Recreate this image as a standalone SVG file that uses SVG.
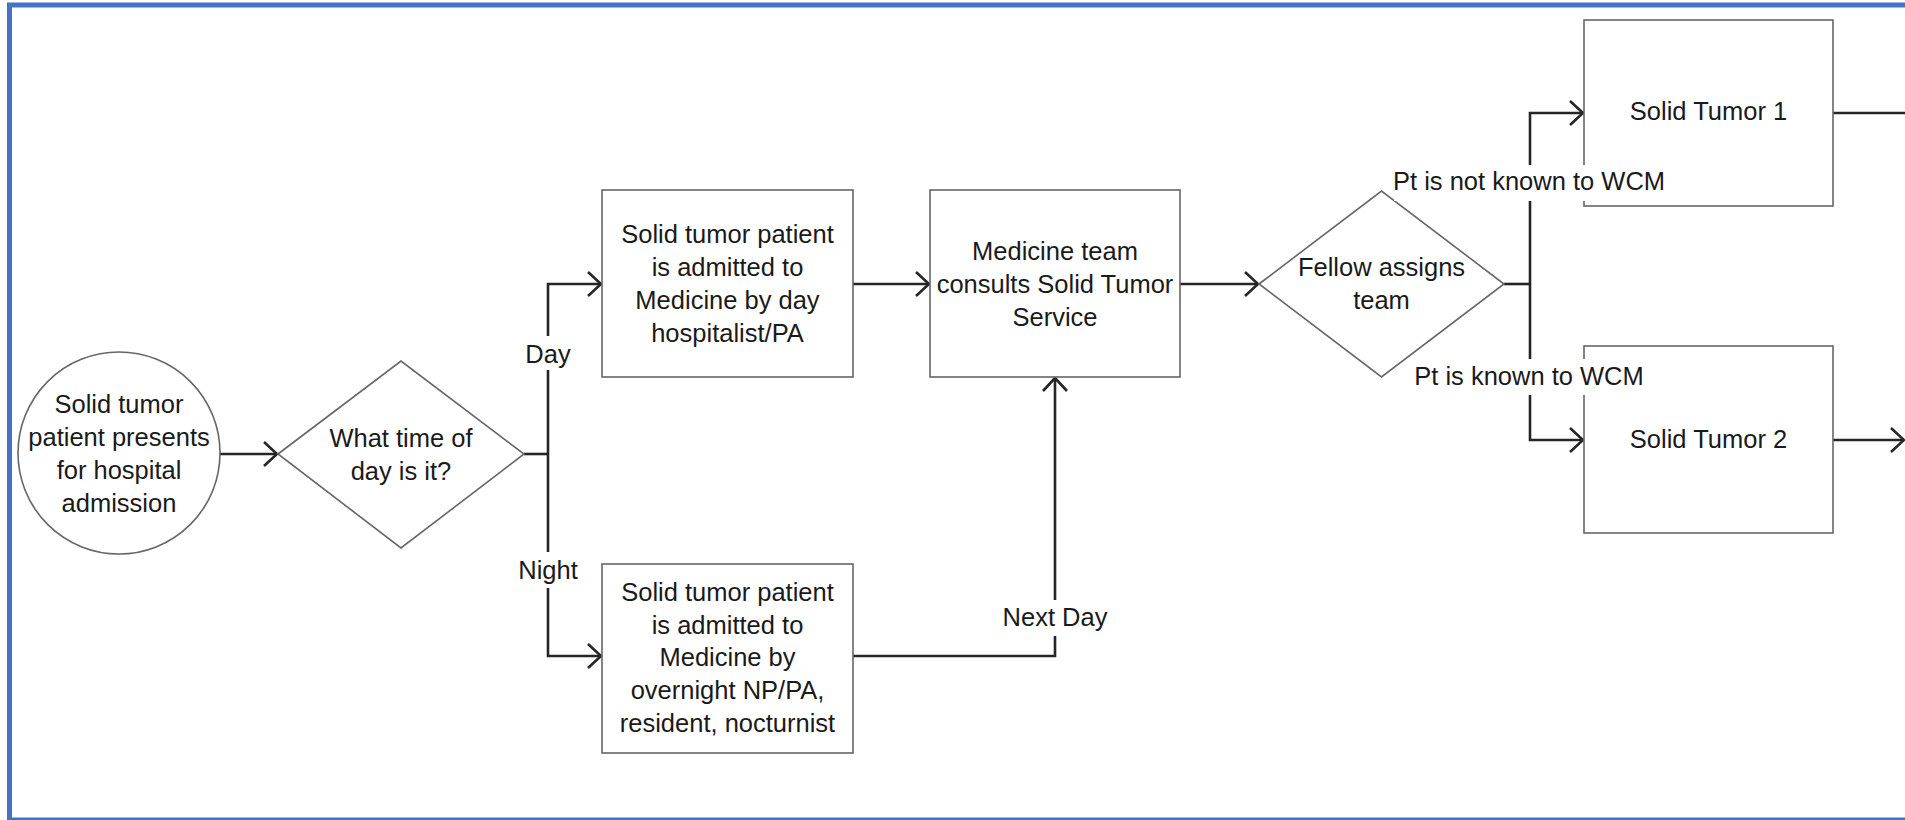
<svg xmlns="http://www.w3.org/2000/svg" width="1905" height="820" viewBox="0 0 1905 820">
<style>
.shape{fill:#fff;stroke:#666;stroke-width:1.6}
.conn{fill:none;stroke:#262626;stroke-width:2.6}
.t{font-family:"Liberation Sans",Arial,sans-serif;font-size:25.5px;fill:#1a1a1a;text-anchor:middle}
.lbl{fill:#fff;stroke:none}
</style>
<defs>
<marker id="ah" markerUnits="userSpaceOnUse" markerWidth="30" markerHeight="30" viewBox="-16 -15 18 30" refX="0" refY="0" orient="auto">
<path d="M-13,-12 L0,0 L-13,12" fill="none" stroke="#262626" stroke-width="2.6"/>
</marker>
</defs>
<rect width="1905" height="820" fill="#fff"/>
<rect x="9.5" y="5" width="1910" height="815" fill="none" stroke="#4472C4" stroke-width="5"/>

<g id="connectors">
<path class="conn" d="M220,454 H277" marker-end="url(#ah)"/>
<path class="conn" d="M524,454 H548"/>
<path class="conn" d="M548,454 V284 H601" marker-end="url(#ah)"/>
<path class="conn" d="M548,454 V656 H601" marker-end="url(#ah)"/>
<path class="conn" d="M853,284 H929" marker-end="url(#ah)"/>
<path class="conn" d="M1180,284 H1258" marker-end="url(#ah)"/>
<path class="conn" d="M853,656 H1055 V378" marker-end="url(#ah)"/>
<path class="conn" d="M1504,284 H1530"/>
<path class="conn" d="M1530,284 V113 H1583" marker-end="url(#ah)"/>
<path class="conn" d="M1530,284 V440 H1583" marker-end="url(#ah)"/>
<path class="conn" d="M1833,113 H1905"/>
<path class="conn" d="M1833,440 H1904" marker-end="url(#ah)"/>
</g>

<g id="start">
<circle class="shape" cx="119" cy="453" r="101"/>
<text class="t" x="119" y="413">Solid tumor</text>
<text class="t" x="119" y="446">patient presents</text>
<text class="t" x="119" y="479">for hospital</text>
<text class="t" x="119" y="512">admission</text>
</g>

<g id="time-decision">
<polygon class="shape" points="278,454 401,361 524,454 401,548"/>
<text class="t" x="401" y="447">What time of</text>
<text class="t" x="401" y="480">day is it?</text>
</g>

<g id="day-admit">
<rect class="shape" x="602" y="190" width="251" height="187"/>
<text class="t" x="727.5" y="243">Solid tumor patient</text>
<text class="t" x="727.5" y="276">is admitted to</text>
<text class="t" x="727.5" y="309">Medicine by day</text>
<text class="t" x="727.5" y="342">hospitalist/PA</text>
</g>

<g id="night-admit">
<rect class="shape" x="602" y="564" width="251" height="189"/>
<text class="t" x="727.5" y="601">Solid tumor patient</text>
<text class="t" x="727.5" y="634">is admitted to</text>
<text class="t" x="727.5" y="666">Medicine by</text>
<text class="t" x="727.5" y="699">overnight NP/PA,</text>
<text class="t" x="727.5" y="732">resident, nocturnist</text>
</g>

<g id="consult">
<rect class="shape" x="930" y="190" width="250" height="187"/>
<text class="t" x="1055" y="260">Medicine team</text>
<text class="t" x="1055" y="293">consults Solid Tumor</text>
<text class="t" x="1055" y="326">Service</text>
</g>

<g id="fellow-decision">
<polygon class="shape" points="1259,284 1381.5,191 1504,284 1381.5,377"/>
<text class="t" x="1381.5" y="276">Fellow assigns</text>
<text class="t" x="1381.5" y="309">team</text>
</g>

<g id="solid-tumor-1">
<rect class="shape" x="1584" y="20" width="249" height="186"/>
<text class="t" x="1708.5" y="120">Solid Tumor 1</text>
</g>

<g id="solid-tumor-2">
<rect class="shape" x="1584" y="346" width="249" height="187"/>
<text class="t" x="1708.5" y="448">Solid Tumor 2</text>
</g>

<g id="labels">
<rect class="lbl" x="528" y="336" width="40" height="34"/>
<text class="t" x="548" y="363">Day</text>
<rect class="lbl" x="518" y="552" width="60" height="36"/>
<text class="t" x="548" y="579">Night</text>
<rect class="lbl" x="1005" y="600" width="100" height="36"/>
<text class="t" x="1055" y="626">Next Day</text>
<rect class="lbl" x="1394" y="165" width="270" height="36"/>
<text class="t" x="1529" y="190">Pt is not known to WCM</text>
<rect class="lbl" x="1416" y="359" width="226" height="36"/>
<text class="t" x="1529" y="385">Pt is known to WCM</text>
</g>
</svg>
